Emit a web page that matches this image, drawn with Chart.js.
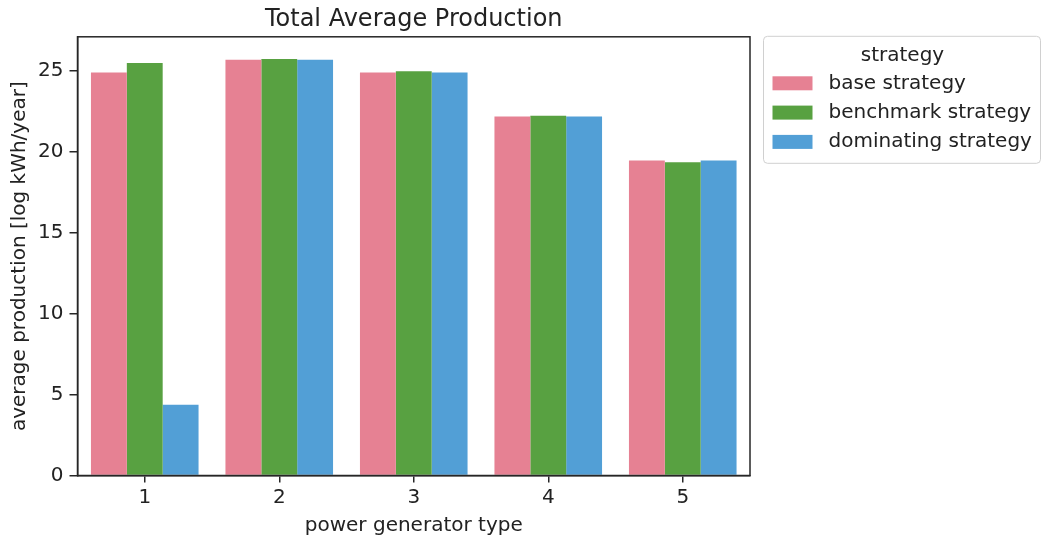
<!DOCTYPE html>
<html>
<head>
<meta charset="utf-8">
<script src="https://cdn.jsdelivr.net/npm/chart.js@4"></script>
<style>
  html, body { margin: 0; padding: 0; background: #fff; }
  #wrap { width: 1041px; height: 542px; }
</style>
</head>
<body>
<div id="wrap"><canvas id="prodChart" width="1041" height="542"></canvas></div>
<script>
// chart data
const generatorTypes = ['1', '2', '3', '4', '5'];
const baseStrategy = [24.89, 25.69, 24.90, 22.17, 19.46];
const benchmarkStrategy = [25.48, 25.73, 24.97, 22.23, 19.35];
const dominatingStrategy = [4.37, 25.69, 24.90, 22.17, 19.46];
const strategyNames = ['base strategy', 'benchmark strategy', 'dominating strategy'];
const strategyColors = ['#e68193', '#58a141', '#529fd6'];

const FONT = 'DejaVu Sans';
const INK = '#222222';
const AXIS = '#262626';

// matplotlib-like frame around the axes
const framePlugin = {
    id: 'frame',
    afterDraw(chart) {
        const { ctx, chartArea: a } = chart;
        ctx.save();
        ctx.strokeStyle = AXIS;
        ctx.lineWidth = 1.5;
        ctx.strokeRect(a.left, a.top, a.right - a.left, a.bottom - a.top);
        ctx.restore();
    }
};

// legend outside the axes, to the right, with a title
const sideLegendPlugin = {
    id: 'sideLegend',
    afterDraw(chart) {
        const { ctx, chartArea: a } = chart;
        const x0 = a.right + 13.5, y0 = a.top - 0.5;
        const w = 277, h = 127;
        ctx.save();
        ctx.beginPath();
        ctx.roundRect(x0, y0, w, h, 4);
        ctx.fillStyle = '#ffffff';
        ctx.fill();
        ctx.strokeStyle = '#d0d0d0';
        ctx.lineWidth = 1;
        ctx.stroke();

        ctx.font = '20px "' + FONT + '"';
        ctx.fillStyle = INK;
        ctx.textBaseline = 'middle';
        ctx.textAlign = 'center';
        ctx.fillText('strategy', x0 + 139, y0 + 19);

        ctx.textAlign = 'left';
        chart.data.datasets.forEach((ds, i) => {
            const cy = y0 + 47 + i * 29.3;
            ctx.fillStyle = ds.backgroundColor;
            ctx.fillRect(x0 + 9, cy - 7, 40, 14);
            ctx.fillStyle = INK;
            ctx.fillText(ds.label, x0 + 65, cy);
        });
        ctx.restore();
    }
};

const seriesValues = [baseStrategy, benchmarkStrategy, dominatingStrategy];

const ctx = document.getElementById('prodChart').getContext('2d');
new Chart(ctx, {
    type: 'bar',
    data: {
        labels: generatorTypes,
        datasets: seriesValues.map((vals, i) => ({
            label: strategyNames[i],
            data: vals,
            backgroundColor: strategyColors[i],
            borderWidth: 0,
            barPercentage: 1.0,
            categoryPercentage: 0.8
        }))
    },
    options: {
        responsive: false,
        devicePixelRatio: 1,
        animation: false,
        layout: { padding: { left: 0, right: 291, top: 0, bottom: 0 } },
        plugins: {
            legend: { display: false },
            tooltip: { enabled: false },
            title: {
                display: true,
                fullSize: false,
                text: 'Total Average Production',
                color: INK,
                font: { family: FONT, size: 24, weight: 'normal' },
                padding: { top: 5, bottom: 3 }
            }
        },
        scales: {
            x: {
                grid: { offset: false, drawOnChartArea: false, drawTicks: true, tickLength: 7, color: AXIS, lineWidth: 1.5 },
                border: { display: true, color: AXIS, width: 1.5 },
                ticks: { color: INK, font: { family: FONT, size: 20 }, padding: 3, maxRotation: 0 },
                title: {
                    display: true,
                    text: 'power generator type',
                    color: INK,
                    font: { family: FONT, size: 20 },
                    padding: { top: 0, bottom: 4 }
                },
                afterFit(scale) { scale.height = 66.5; }
            },
            y: {
                min: 0,
                max: 27.1,
                grid: { drawOnChartArea: false, drawTicks: true, tickLength: 8, color: AXIS, lineWidth: 1.5 },
                border: { display: true, color: AXIS, width: 1.5 },
                ticks: { stepSize: 5, includeBounds: false, color: INK, font: { family: FONT, size: 20 }, padding: 6 },
                title: {
                    display: true,
                    text: 'average production [log kWh/year]',
                    color: INK,
                    font: { family: FONT, size: 20 },
                    padding: { top: 8, bottom: 0 }
                },
                afterFit(scale) { scale.width = 77.5; }
            }
        }
    },
    plugins: [framePlugin, sideLegendPlugin]
});
</script>
</body>
</html>
